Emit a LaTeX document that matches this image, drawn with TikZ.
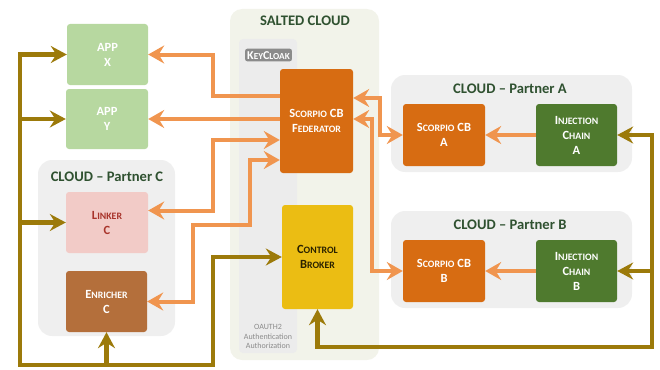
\documentclass[tikz,border=0pt]{standalone}
\usepackage{fontspec}
\setmainfont{Carlito}
\usetikzlibrary{arrows.meta,calc}
\definecolor{corange}{HTML}{F0954F}
\definecolor{colive}{HTML}{9C7A0A}
\definecolor{cfed}{HTML}{D76C12}
\definecolor{cinj}{HTML}{4F7A2E}
\definecolor{cctrl}{HTML}{EBBD13}
\definecolor{capp}{HTML}{B7D8A0}
\definecolor{clink}{HTML}{F2CBC7}
\definecolor{clinktxt}{HTML}{A8342B}
\definecolor{cenr}{HTML}{B46F3B}
\definecolor{cbg}{HTML}{EFEFEF}
\definecolor{csalt}{HTML}{F2F3EA}
\definecolor{ccol}{HTML}{ECECEC}
\definecolor{ckey}{HTML}{8B8B8B}
\definecolor{ctitle}{HTML}{2F5130}
\definecolor{cctrltxt}{HTML}{2A2200}
\newcommand\mysc[2]{{\fontsize{12.5}{15}\selectfont #1}{\fontsize{9.8}{15}\selectfont #2}}
\begin{document}
\begin{tikzpicture}[x=1pt,y=-1pt,
  box/.style={rectangle, rounded corners=3pt, align=center, inner sep=0pt,
    font=\bfseries\fontsize{12.5}{15}\selectfont},
  title/.style={font=\bfseries\fontsize{14.6}{17}\selectfont, text=ctitle},
  ora/.style={draw=corange, line width=4pt, -{Stealth[length=16pt,width=18pt,inset=5.5pt]}},
  orab/.style={draw=corange, line width=4pt, {Stealth[length=16pt,width=18pt,inset=5.5pt]}-{Stealth[length=16pt,width=18pt,inset=5.5pt]}},
  oli/.style={draw=colive, line width=4.5pt, line cap=rect, -{Stealth[length=16pt,width=17pt,inset=5.5pt]}}
]
\useasboundingbox (0,0) rectangle (660,369);
% backgrounds
\fill[csalt, rounded corners=12pt] (230,9) rectangle (379,360);
\fill[ccol, rounded corners=4pt] (239,39) rectangle (297,353);
\fill[cbg, rounded corners=14pt] (38,160) rectangle (175,336);
\fill[cbg, rounded corners=14pt] (391,75) rectangle (632,172);
\fill[cbg, rounded corners=14pt] (391,211) rectangle (632,308);
\node[title] (tsalt) at (305,21) {SALTED CLOUD};
\node[title] (tc) at (107,177) {CLOUD -- Partner C};
\node[title] (ta) at (510,89) {CLOUD -- Partner A};
\node[title] (tb) at (510,225) {CLOUD -- Partner B};
\node[rectangle, rounded corners=2pt, fill=ckey, text=white, inner xsep=2pt, inner ysep=2pt, text height=8.5pt, text depth=0pt, font=\bfseries] (kc) at (268.5,55) {{\fontsize{12}{12}\selectfont K}{\fontsize{9.2}{12}\selectfont EY}{\fontsize{12}{12}\selectfont C}{\fontsize{9.2}{12}\selectfont LOAK}};
\node[align=center, text=ckey, font=\fontsize{8}{9.6}\selectfont] (oauth) at (268,336.5) {OAUTH2\\Authentication\\Authorization};
% nodes
\node[box, fill=capp, text=white, minimum width=81pt, minimum height=61pt] (appx) at (107.5,54.5) {APP\\X};
\node[box, fill=capp, text=white, minimum width=82pt, minimum height=60pt] (appy) at (107,119) {APP\\Y};
\node[box, fill=clink, text=clinktxt, minimum width=82pt, minimum height=61pt] (linker) at (107,222.5) {\mysc{L}{INKER}\\C};
\node[box, fill=cenr, text=white, minimum width=81pt, minimum height=61pt] (enricher) at (106.5,301.5) {\mysc{E}{NRICHER}\\C};
\node[box, fill=cfed, text=white, minimum width=73pt, minimum height=104pt] (fed) at (316.5,121) {\mysc{S}{CORPIO} CB\\\mysc{F}{EDERATOR}};
\node[box, fill=cctrl, text=cctrltxt, minimum width=71pt, minimum height=104pt] (ctrl) at (317.5,257) {\mysc{C}{ONTROL}\\\mysc{B}{ROKER}};
\node[box, fill=cfed, text=white, minimum width=82pt, minimum height=62pt] (sa) at (444,135) {\mysc{S}{CORPIO} CB\\A};
\node[box, fill=cinj, text=white, minimum width=81pt, minimum height=62pt] (ia) at (576.5,135) {\mysc{I}{NJECTION}\\\mysc{C}{HAIN}\\A};
\node[box, fill=cfed, text=white, minimum width=82pt, minimum height=62pt] (sb) at (444,271) {\mysc{S}{CORPIO} CB\\B};
\node[box, fill=cinj, text=white, minimum width=81pt, minimum height=62pt] (ib) at (576.5,271) {\mysc{I}{NJECTION}\\\mysc{C}{HAIN}\\B};
% orange connectors
\draw[ora] ($(fed.west)+(0,-25)$) -| (213,54.5) -- (appx.east);
\draw[ora] (fed.west |- appy.east) -- (appy.east);
\draw[orab] ($(linker.east)+(0,-12)$) -| (213,140) -- ($(fed.west)+(0,19)$);
\draw[orab] (enricher.east) -| (193,225) -| (250,160) -- ($(fed.west)+(0,39)$);
\draw[orab] ($(fed.east)+(0,-23)$) -| (380,135) -- (sa.west);
\draw[orab] ($(fed.east)+(0,-2)$) -| (372,271) -- (sb.west);
\draw[ora] (ia.west) -- (sa.east);
\draw[ora] (ib.west) -- (sb.east);
% olive connectors
\coordinate (bl) at (20,365);
\coordinate (br) at (652,347);
\draw[oli] (bl) |- (appx.west);
\draw[oli] (bl) |- (appy.west);
\draw[oli] (bl) |- (linker.west);
\draw[oli] (bl) -- (213,365) |- (ctrl.west);
\draw[oli] (enricher.south |- bl) -- (enricher.south);
\draw[oli] (br) |- (ia.east);
\draw[oli] (br) |- (ib.east);
\draw[oli] (br) -| (ctrl.south);
\end{tikzpicture}
\end{document}
